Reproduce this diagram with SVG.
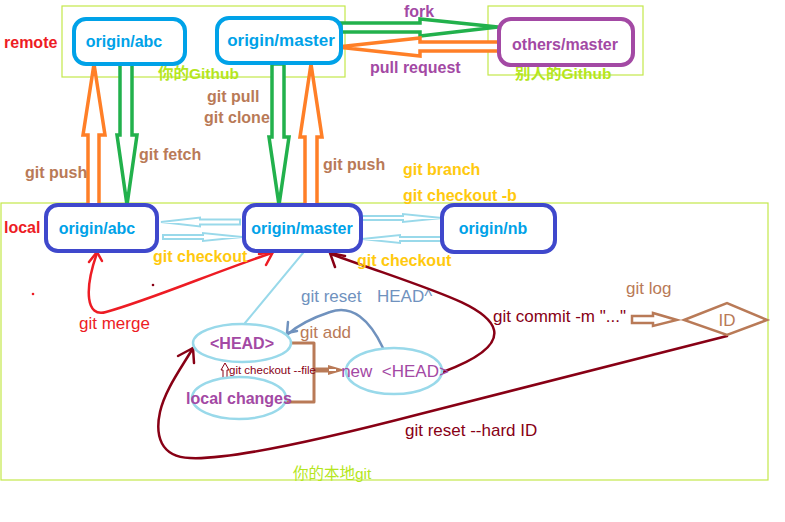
<svg xmlns="http://www.w3.org/2000/svg" width="785" height="522" viewBox="0 0 785 522">
<defs>
<style>
text{font-family:"Liberation Sans","Noto Sans CJK SC",sans-serif;font-size:16px}
.b{font-weight:bold}
.n{font-size:17px}
.zone{fill:none;stroke:#c4e84a;stroke-width:1.2}
.rnode{fill:#fff;stroke:#00a2e8;stroke-width:4}
.lnode{fill:#fff;stroke:#3f48cc;stroke-width:4}
.ell{fill:#fff;stroke:#99d9ea;stroke-width:2.5}
.orange{fill:#fff;stroke:#ff7f27;stroke-width:3.5;stroke-linejoin:miter}
.green{fill:#fff;stroke:#22b14c;stroke-width:3.5;stroke-linejoin:miter}
.lb{fill:#fff;stroke:#99d9ea;stroke-width:2}
.line{fill:none;stroke-linecap:round;stroke-linejoin:round}
.brown{fill:#b97a57}
.yel{fill:#ffc90e}
.red{fill:#ed1c24}
.pur{fill:#a349a4}
.blue{fill:#00a2e8}
.dred{fill:#880015}
.yg{fill:#b5e61d}
</style>
</defs>

<!-- zones -->
<rect class="zone" x="62" y="6" width="283" height="71"/>
<rect class="zone" x="488" y="6" width="155" height="69"/>
<rect class="zone" x="1" y="203" width="767" height="277"/>
<text x="4" y="48" class="b red">remote</text>
<text x="4" y="233" class="b red">local</text>
<text x="158" y="79" class="b yg" style="font-size:15.5px">你的Github</text>
<text x="515" y="79" class="b yg" style="font-size:15.5px">别人的Github</text>
<text x="293" y="479" class="yg" style="font-size:15.5px">你的本地git</text>

<!-- connectors -->
<g id="connectors">
  <!-- fork -->
  <polygon class="green" points="341,23 420,23 420,19 498,27 420,36 420,32 341,32"/>
  <!-- pull request -->
  <polygon class="orange" points="499,42 420,42 420,38 337,47 420,56 420,51 499,51"/>
  <!-- git push left -->
  <polygon class="orange" points="88,205 88,135 83,135 94,64 105,135 99,135 99,205"/>
  <!-- git fetch -->
  <polygon class="green" points="120,64 132,64 132,135 137,135 127,205 117,135 120,135"/>
  <!-- git pull / clone -->
  <polygon class="green" points="272,64 284,64 284,137 289,137 279,205 269,137 272,137"/>
  <!-- git push right -->
  <polygon class="orange" points="305,205 305,137 300,137 311,64 322,137 317,137 317,205"/>
  <!-- checkout arrows -->
  <polygon class="lb" points="240,219.5 200,219.5 200,217.5 161,222 200,226.5 200,224.5 240,224.5"/>
  <polygon class="lb" points="163,235 203,235 203,233 242,237 203,241 203,239 163,239"/>
  <polygon class="lb" points="362,216 403,216 403,214 442,218 403,222 403,220 362,220"/>
  <polygon class="lb" points="442,237 400,237 400,235 362,239 400,243 400,241 442,241"/>
  <!-- merge -->
  <path class="line" stroke="#ed1c24" stroke-width="2.5" d="M97,253 C84,290 86,318 106,312 C150,300 220,270 272,253"/>
  <path class="line" stroke="#ed1c24" stroke-width="2.5" d="M89,262 L97,252 L102,261"/>
  <path class="line" stroke="#ed1c24" stroke-width="2.5" d="M259,254 L273,252 L266,265"/>
  <circle cx="33" cy="294" r="1.3" fill="#ed1c24"/>
  <circle cx="153" cy="285" r="1.3" fill="#880015"/>
  <!-- master to HEAD -->
  <path class="line" stroke="#99d9ea" stroke-width="2" d="M303,253 L245,323"/>
  <!-- commit -->
  <path class="line" stroke="#880015" stroke-width="2.5" d="M443,372 C470,362 498,348 494,330 C488,305 430,290 331,254"/>
  <path class="line" stroke="#880015" stroke-width="2.5" d="M335,267 L330,253 L345,256"/>
  <!-- git reset HEAD^ -->
  <path class="line" stroke="#7092be" stroke-width="2.5" d="M383,348 C370,320 352,304 330,312 C312,318 296,327 288,334"/>
  <path class="line" stroke="#7092be" stroke-width="2.5" d="M288,322 L287,333 L297,331"/>
  <!-- bracket git add -->
  <polyline class="line" stroke="#b97a57" stroke-width="3" points="292,343 314,343 314,402 285,402" style="stroke-linecap:butt"/>
  <line x1="314" y1="370" x2="332" y2="370" stroke="#b97a57" stroke-width="5"/>
  <polygon points="328,365 345,370 328,375" fill="#b97a57"/>
  <polygon points="329,369 336,369 336,371 329,371" fill="#fff"/>
  <!-- checkout file small arrow -->
  <polygon points="223,378 223,370 221,370 225,363 229,370 227,370 227,378" fill="none" stroke="#880015" stroke-width="1"/>
  <!-- git log arrow -->
  <polygon points="632,316 653,316 653,313 677,320 653,326 653,323 632,323" fill="#fff" stroke="#b97a57" stroke-width="2.5"/>
  <!-- reset hard -->
  <path class="line" stroke="#880015" stroke-width="2.5" d="M727,336 L420,414 C320,440 230,460 190,458 C160,457 155,435 160,412 C165,390 180,370 193,348"/>
  <path class="line" stroke="#880015" stroke-width="2.5" d="M178,356 L193,348 L194,363"/>
</g>

<!-- labels on connectors -->
<text x="404" y="17" class="b pur">fork</text>
<text x="370" y="73" class="b pur">pull request</text>
<text x="207" y="102" class="b brown">git pull</text>
<text x="204" y="123" class="b brown">git clone</text>
<text x="139" y="160" class="b brown">git fetch</text>
<text x="25" y="178" class="b brown">git push</text>
<text x="323" y="170" class="b brown">git push</text>
<text x="403" y="175" class="b yel">git branch</text>
<text x="403" y="201" class="b yel">git checkout -b</text>
<text x="153" y="262" class="b yel">git checkout</text>
<text x="357" y="266" class="b yel">git checkout</text>
<text x="79" y="329" class="red n">git merge</text>
<text y="302" fill="#7092be" class="n"><tspan x="301">git reset</tspan><tspan x="377">HEAD^</tspan></text>
<text x="300" y="338" class="brown n">git add</text>
<text x="229" y="374" class="dred" style="font-size:11.5px">git checkout --file</text>
<text x="493" y="322" class="dred n">git commit -m "..."</text>
<text x="626" y="294" class="brown n">git log</text>
<text x="405" y="436" class="dred n">git reset --hard ID</text>

<!-- nodes -->
<g id="remote-origin-abc">
  <rect class="rnode" x="74" y="19" width="111" height="45" rx="12"/>
  <text x="124" y="47" text-anchor="middle" class="b blue">origin/abc</text>
</g>
<g id="remote-origin-master">
  <rect class="rnode" x="217" y="18" width="124" height="45" rx="12"/>
  <text x="281" y="46" text-anchor="middle" class="b blue" style="font-size:17px">origin/master</text>
</g>
<g id="others-master">
  <rect x="499" y="19" width="134" height="46" rx="12" fill="#fff" stroke="#a349a4" stroke-width="4"/>
  <text x="565" y="50" text-anchor="middle" class="b pur">others/master</text>
</g>
<g id="local-origin-abc">
  <rect class="lnode" x="46" y="205" width="111" height="46" rx="12"/>
  <text x="97" y="234" text-anchor="middle" class="b blue">origin/abc</text>
</g>
<g id="local-origin-master">
  <rect class="lnode" x="244" y="205" width="117" height="46" rx="12"/>
  <text x="302" y="234" text-anchor="middle" class="b blue">origin/master</text>
</g>
<g id="local-origin-nb">
  <rect class="lnode" x="442" y="205" width="113" height="47" rx="12"/>
  <text x="493" y="234" text-anchor="middle" class="b blue">origin/nb</text>
</g>
<g id="head">
  <ellipse class="ell" cx="242" cy="343" rx="49" ry="19"/>
  <text x="242" y="349" text-anchor="middle" class="b pur">&lt;HEAD&gt;</text>
</g>
<g id="local-changes">
  <ellipse class="ell" cx="239" cy="398" rx="47" ry="21"/>
  <text x="239" y="404" text-anchor="middle" class="b pur">local changes</text>
</g>
<g id="new-head">
  <ellipse class="ell" cx="394" cy="371" rx="48" ry="23"/>
  <text x="395" y="377" text-anchor="middle" class="pur n" xml:space="preserve">new  &lt;HEAD&gt;</text>
</g>
<g id="id">
  <polygon points="684,320 727,303 767,320 727,335" fill="#fff" stroke="#b97a57" stroke-width="2.5"/>
  <text x="727" y="326" text-anchor="middle" class="brown n">ID</text>
</g>
</svg>
